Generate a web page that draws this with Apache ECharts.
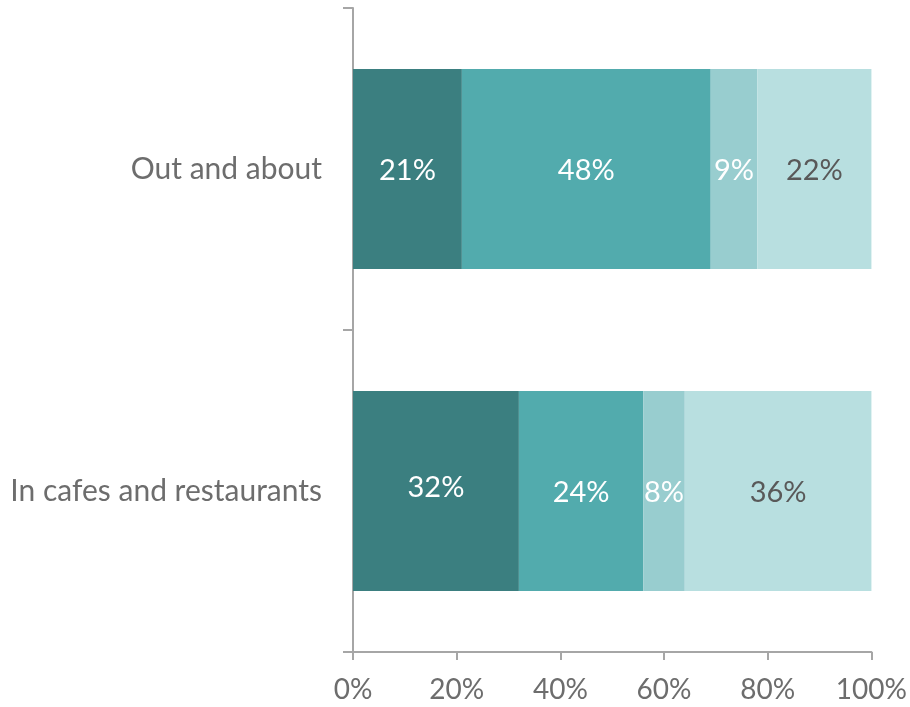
<!DOCTYPE html>
<html>
<head>
<meta charset="utf-8">
<script src="https://cdn.jsdelivr.net/npm/echarts@6/dist/echarts.min.js"></script>
<style>
  html, body { margin: 0; padding: 0; background: #ffffff; }
  #chart { width: 910px; height: 707px; }
</style>
</head>
<body>
<div id="chart"></div>
<script>
// Where people go: share of responses per setting (percent)
const categories = ['Out and about', 'In cafes and restaurants'];
const segment1 = [21, 32];
const segment2 = [48, 24];
const segment3 = [9, 8];
const segment4 = [22, 36];
const xTicks = [0, 20, 40, 60, 80, 100];

const colors = ['#3b7f80', '#52abad', '#98cdcf', '#b8dfe0'];
const labelColors = ['#ffffff', '#ffffff', '#ffffff', '#595959'];
const fontFamily = 'Lato, "Open Sans", sans-serif';

function makeSeries(name, values, idx) {
  return {
    name: name,
    type: 'bar',
    stack: 'total',
    barWidth: 200,
    itemStyle: { color: colors[idx] },
    label: {
      show: true,
      position: 'inside',
      formatter: '{c}%',
      color: labelColors[idx],
      fontSize: 29,
      fontFamily: fontFamily,
      offset: [0, 2]
    },
    emphasis: { disabled: true },
    data: values.map(function (v, i) {
      // first segment of the second bar sits its label a little higher
      if (idx === 0 && i === 1) {
        return { value: v, label: { offset: [0, -3] } };
      }
      return v;
    })
  };
}

const chart = echarts.init(document.getElementById('chart'), null, { renderer: 'canvas' });
chart.setOption({
  animation: false,
  backgroundColor: '#ffffff',
  grid: { left: 353, right: 38, top: 8, bottom: 55, containLabel: false },
  xAxis: {
    type: 'value',
    min: xTicks[0],
    max: xTicks[xTicks.length - 1],
    interval: 20,
    axisLine: { show: true, lineStyle: { color: '#a6a6a6', width: 2 } },
    axisTick: { show: true, length: 8, lineStyle: { color: '#a6a6a6', width: 2 } },
    splitLine: { show: false },
    axisLabel: {
      formatter: '{value}%',
      color: '#6d6d6d',
      fontSize: 28,
      fontFamily: fontFamily,
      margin: 24
    }
  },
  yAxis: {
    type: 'category',
    inverse: true,
    data: categories,
    axisLine: { show: true, lineStyle: { color: '#a6a6a6', width: 2 } },
    axisTick: { show: true, length: 10, alignWithLabel: false, lineStyle: { color: '#a6a6a6', width: 2 } },
    axisLabel: {
      color: '#6d6d6d',
      fontSize: 30,
      fontFamily: fontFamily,
      margin: 31
    }
  },
  series: [
    makeSeries('Segment 1', segment1, 0),
    makeSeries('Segment 2', segment2, 1),
    makeSeries('Segment 3', segment3, 2),
    makeSeries('Segment 4', segment4, 3)
  ]
});
</script>
</body>
</html>
